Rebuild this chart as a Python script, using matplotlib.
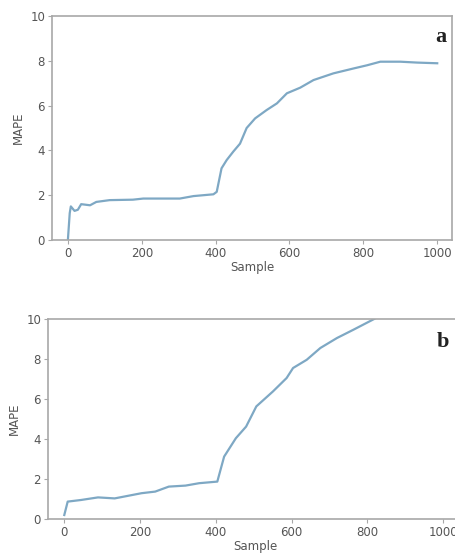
import matplotlib
matplotlib.use("Agg")
import matplotlib.pyplot as plt

# Panel a data
a_x = [0, 5, 8, 18, 27, 36, 60, 77, 113, 176, 204, 303, 340, 394, 403, 416, 430,
       448, 466, 484, 507, 538, 566, 593, 629, 665, 719, 774, 810, 846, 900, 946, 1000]
a_y = [0.0, 1.2, 1.5, 1.3, 1.35, 1.6, 1.55, 1.7, 1.78, 1.8, 1.85, 1.85, 1.96, 2.04, 2.15,
       3.2, 3.57, 3.95, 4.3, 5.0, 5.43, 5.8, 6.1, 6.55, 6.8, 7.14, 7.44, 7.66, 7.8, 7.96,
       7.96, 7.92, 7.89]

# Panel b data
b_x = [0, 9, 44, 89, 133, 204, 240, 276, 320, 356, 404, 422, 453, 480, 507, 551,
       587, 604, 640, 676, 720, 764, 818, 900, 1000]
b_y = [0.2, 0.87, 0.95, 1.08, 1.03, 1.29, 1.37, 1.62, 1.67, 1.79, 1.87, 3.12, 4.04,
       4.62, 5.63, 6.38, 7.05, 7.55, 7.96, 8.55, 9.05, 9.47, 10.0, 10.9, 11.9]

panel_labels = ["a", "b"]
xticks = [0, 200, 400, 600, 800, 1000]
yticks = [0, 2, 4, 6, 8, 10]

W, H = 455, 553
fig = plt.figure(figsize=(W / 100, H / 100), dpi=100)

line_color = "#7ea8c4"
spine_color = "#a8a8a8"
text_color = "#555555"

def px_axes(left, top, right, bottom):
    return fig.add_axes([left / W, 1 - bottom / H, (right - left) / W, (bottom - top) / H])

ax1 = px_axes(52, 16, 452, 240)
ax2 = px_axes(48, 319, 462, 519)

for ax, xs, ys, lab, lab_pos, xmax in [(ax1, a_x, a_y, panel_labels[0], (0.985, 0.95), 1040),
                                       (ax2, b_x, b_y, panel_labels[1], (0.968, 0.935), 1050)]:
    ax.plot(xs, ys, color=line_color, lw=1.6)
    ax.set_xlim(-43, xmax)
    ax.set_ylim(0, 10)
    ax.set_xticks(xticks)
    ax.set_yticks(yticks)
    ax.set_xlabel("Sample", fontsize=8.5, color=text_color, labelpad=1)
    ax.set_ylabel("MAPE", fontsize=8.5, color=text_color, labelpad=4)
    ax.tick_params(labelsize=8.5, colors=text_color, length=3, color=spine_color, pad=2)
    for s in ax.spines.values():
        s.set_color(spine_color)
        s.set_linewidth(1.2)
    ax.text(*lab_pos, lab, transform=ax.transAxes, ha="right", va="top",
            fontsize=16, fontweight="bold", family="Liberation Serif", color="#222222")

fig.savefig("out.png", dpi=100)
